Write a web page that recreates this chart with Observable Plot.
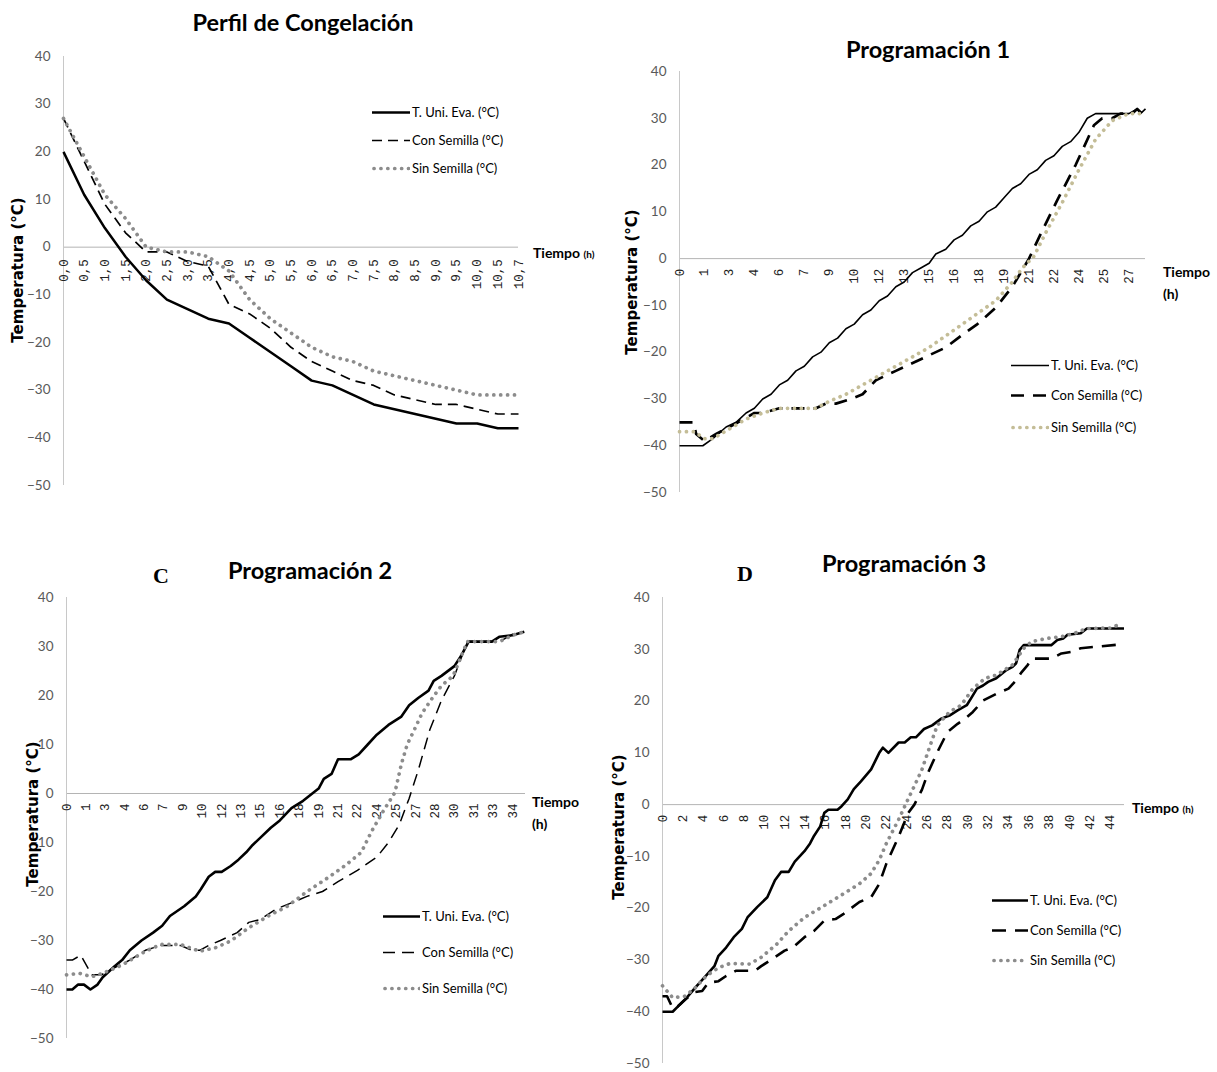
<!DOCTYPE html>
<html><head><meta charset="utf-8">
<script src="https://cdn.jsdelivr.net/npm/d3@7"></script>
<script src="https://cdn.jsdelivr.net/npm/@observablehq/plot@0.6"></script>
<style>
body{margin:0;background:#fff;}
#page{position:relative;width:1217px;height:1072px;overflow:hidden;background:#fff;}
.abs{position:absolute;white-space:nowrap;line-height:1;}
.title{font-family:"Liberation Sans Narrow",Lato,sans-serif;font-weight:bold;font-size:23.5px;color:#000;transform:translate(-50%,-50%);}
.ytitle{font-family:"DejaVu Sans",Verdana,sans-serif;font-weight:bold;font-size:15px;color:#000;transform:translate(-50%,-50%) rotate(-90deg);}
.leg{font-family:"Liberation Sans Narrow",Lato,sans-serif;font-size:13px;color:#000;display:flex;align-items:center;transform:translateY(-50%);}
.leg svg{display:block;margin-right:2px;}
.tiempo{font-family:"Liberation Sans Narrow",Lato,sans-serif;font-weight:bold;font-size:14px;color:#000;transform:translateY(-50%);}
.tiempo small{font-size:10px;}
.letter{font-family:"Liberation Serif","Times New Roman",serif;font-weight:bold;font-size:22px;transform:translate(-50%,-50%);}
</style>
</head><body><div id="page"></div>
<script>
// ---------- Panel A: Perfil de Congelación (categories every 0,5 h) ----------
const aLabels = ["0,0","0,5","1,0","1,5","2,0","2,5","3,0","3,5","4,0","4,5","5,0","5,5","6,0","6,5","7,0","7,5","8,0","8,5","9,0","9,5","10,0","10,5","10,7"];
const aUni = [20,11,4,-2,-7,-11,-13,-15,-16,-19,-22,-25,-28,-29,-31,-33,-34,-35,-36,-37,-37,-38,-38];
const aCon = [27,18,9,3,-1,-1,-3,-4,-12,-14,-17,-21,-24,-26,-28,-29,-31,-32,-33,-33,-34,-35,-35];
const aSin = [27,19,11,6,0,-1,-1,-2,-5,-11,-15,-18,-21,-23,-24,-26,-27,-28,-29,-30,-31,-31,-31];

// ---------- Panel B: Programación 1 ([hours, °C]) ----------
const bLabels = ["0","1","3","4","6","7","9","10","12","13","15","16","18","19","21","22","24","25","27"];
const bUni = [[0,-40],[1.4,-40],[2,-38.5],[2.8,-36],[3.4,-35],[4,-33],[4.5,-32],[5,-30],[5.5,-29],[6,-27],[6.5,-26],[7,-24],[7.5,-23],[8,-21],[8.5,-20],[9,-18],[9.5,-17],[10,-15],[10.5,-14],[11,-12],[11.5,-11],[12,-9],[12.5,-8],[13,-6],[13.5,-5],[14,-3],[14.5,-2],[15,-1],[15.4,1],[16,2],[16.5,4],[17,5],[17.5,7],[18,8],[18.5,10],[19,11],[19.5,13],[20,15],[20.5,16],[21,18],[21.5,19],[22,21],[22.5,22],[23,24],[23.5,25],[24,27],[24.5,30],[25,31],[27,31],[27.5,32],[27.7,31],[28,32]];
const bCon = [[0,-35],[0.85,-35],[1,-37.5],[1.5,-39],[2.2,-37.5],[3,-36],[4,-34],[4.5,-33],[5,-33],[6,-32],[8.2,-32],[8.8,-31],[9.4,-31],[10.3,-30],[11,-29],[11.8,-26],[13,-24],[14.5,-21.5],[16,-19],[17.1,-16],[17.9,-14],[19,-10.5],[20,-6],[21,0],[21.8,6],[22.7,12.5],[23.8,20],[24.9,28.5],[25.4,30],[26,30],[26.5,31],[27.2,31],[27.5,32],[27.8,31],[28,32]];
const bSin = [[0,-37],[0.9,-37],[1.5,-38.5],[2,-38.5],[3,-36.4],[4,-34.3],[5,-33],[6,-32],[8.2,-32],[9,-30.5],[10,-29],[11,-27],[12,-25],[13,-23],[14,-21],[15,-19],[16,-16.5],[17,-14],[18,-11.5],[19,-9],[20,-5],[20.6,-2],[21.3,0.5],[22,5.5],[23,12],[24,19],[25,25.5],[26,29.5],[27,31],[28,31]];

// ---------- Panel C: Programación 2 ----------
const cLabels = ["0","1","3","4","6","7","9","10","12","13","15","16","18","19","21","22","24","25","27","28","30","31","33","34"];
const cUni = [[0,-40],[0.45,-40],[0.9,-39],[1.35,-39],[1.85,-40],[2.4,-39],[2.8,-37.5],[3.7,-35.3],[4.3,-34],[4.9,-32],[5.8,-30],[6.7,-28.4],[7.4,-27],[8,-25],[9.1,-23],[10,-21],[10.4,-19.5],[11,-17],[11.5,-16],[12,-16],[12.7,-14.8],[13.3,-13.5],[13.9,-12],[14.4,-10.5],[15,-9],[15.8,-7],[16.5,-5.5],[17.4,-3],[18.3,-1.5],[19.5,1],[19.9,3],[20.5,4],[21,7],[22,7],[22.6,8],[23.3,10],[24,12],[24.9,14],[25.9,15.7],[26.5,18],[27.2,19.5],[28,21],[28.4,23],[29,24],[30,26],[30.5,28],[31.1,31],[32.9,31],[33.5,32],[34.5,32.3],[35.4,33]];
const cCon = [[0,-34],[0.45,-34],[1.1,-33],[1.95,-37],[2.7,-37],[3.7,-35.6],[4.9,-34],[6.1,-32],[7.3,-31],[8.8,-31],[9.7,-32],[10.3,-32],[11,-31],[11.9,-30],[13.2,-28.4],[14.1,-26.3],[15,-25.7],[16.2,-23.6],[17.7,-22],[18.6,-21],[19.8,-20],[21,-18],[22.5,-15.7],[24,-13],[24.9,-10],[25.75,-6.3],[26.5,-1],[27.2,4.7],[28.1,13],[29,19],[30,24],[31,31],[33.5,31],[34.5,32.5],[35.4,33]];
const cSin = [[0,-37],[1,-36.7],[1.95,-37.4],[2.8,-36.7],[4.3,-35],[6.1,-32.2],[7.3,-30.8],[8.8,-30.8],[10.3,-32.2],[11.5,-31.5],[12.7,-30.1],[14.1,-27.4],[15.6,-25],[17.1,-23],[18.6,-20],[20.1,-17.4],[21.6,-14.6],[22.8,-12],[23.6,-7.7],[24.5,-3.6],[25.4,0.2],[25.9,6],[26.35,10],[26.9,13],[27.5,16.4],[28.3,19.5],[29,22],[29.9,24],[31,31],[33.5,31],[34.5,32.3],[35.4,33]];

// ---------- Panel D: Programación 3 ----------
const dLabels = ["0","2","4","6","8","10","12","14","16","18","20","22","24","26","28","30","32","34","36","38","40","42","44"];
const dUni = [[0,-40],[1,-40],[1.5,-39],[2.2,-37.7],[3.2,-35.4],[4.3,-33],[5.1,-31.2],[5.5,-29.2],[6.25,-27.6],[7,-25.6],[7.8,-24],[8.35,-21.8],[9.3,-19.8],[10.3,-17.9],[11.05,-14.6],[11.65,-13],[12.4,-13],[13,-11],[13.95,-9],[14.5,-7.5],[14.9,-6],[15.5,-4.2],[15.9,-1.6],[16.3,-1],[17.2,-1],[17.6,-0.3],[18.2,1],[18.8,3],[19.5,4.5],[20.5,6.8],[20.9,8.4],[21.3,10],[21.65,11],[22.2,10],[23.2,12],[23.8,12],[24.4,13],[24.9,13],[25.7,14.6],[26.5,15.3],[27.4,16.6],[28.2,17.2],[29,18.2],[29.9,19.2],[30.5,21.1],[30.9,22.4],[31.5,23],[32,23.7],[32.8,24.4],[33.8,26],[34.4,26.6],[34.75,27.3],[35.1,29.9],[35.5,30.8],[38.2,30.8],[38.8,31.8],[39.4,32.1],[39.8,32.8],[41.1,33.1],[41.7,34],[45.35,34]];
const dCon = [[0,-37],[0.45,-37],[1,-39.3],[1.5,-39],[2.2,-37.7],[3.2,-36.2],[3.9,-36],[4.5,-34.4],[5.5,-34.1],[6.25,-33.1],[7.2,-32.1],[9.1,-32.1],[9.7,-31.2],[10.5,-30.2],[12,-28.2],[12.8,-27.6],[13.95,-25.6],[14.9,-24.4],[15.9,-22.4],[17,-22.1],[17.8,-21.1],[19.35,-18.8],[20.5,-17.9],[21.3,-15.3],[22,-11.4],[23.2,-6.2],[24.15,-1.6],[24.75,0],[25.5,2.9],[26.1,6.2],[27,10.1],[28,14],[29,15.6],[29.75,16.6],[30.5,17.9],[31.5,20.1],[32.8,21.4],[34,22.4],[34.75,24],[35.3,25.6],[35.9,27],[36.3,28.2],[38.2,28.2],[39.2,29.2],[40.15,29.5],[41.1,30.2],[45.35,31]];
const dSin = [[0,-35],[1,-37.3],[2.2,-37],[3.2,-35.4],[4.3,-33.1],[5.5,-31.5],[6.6,-30.7],[8.55,-30.8],[9.7,-29.5],[11.25,-26.9],[12.4,-24.4],[13.95,-21.8],[15.9,-19.5],[17.8,-17.2],[19.35,-15.3],[20.5,-13.3],[21.3,-10.7],[22,-7.5],[23.2,-2.9],[23.95,0.3],[24.75,3.6],[25.5,6.8],[26.3,11.4],[27,15.3],[28.2,17.9],[29.35,19.2],[30.5,22.4],[31.7,24.4],[32.8,25],[34.4,27],[35.5,30.2],[36.3,31.5],[37.8,32.1],[39.4,32.5],[40.5,33.1],[41.7,34],[44,34.1],[45.2,35]];

const seriesNames = ["T. Uni. Eva. (°C)", "Con Semilla (°C)", "Sin Semilla (°C)"];
const yTicks = [-50,-40,-30,-20,-10,0,10,20,30,40];

const page = document.getElementById("page");
const sans = '"Liberation Sans Narrow", Lato, sans-serif';

function addDiv(cls, html, left, top) {
  const d = document.createElement("div");
  d.className = "abs " + cls;
  d.innerHTML = html;
  d.style.left = left + "px";
  d.style.top = top + "px";
  page.appendChild(d);
  return d;
}

function panel(p) {
  const fig = Plot.plot({
    width: p.width, height: p.height,
    marginLeft: p.mL, marginRight: p.mR, marginTop: p.mT, marginBottom: p.mB,
    x: {domain: p.xDomain, axis: null},
    y: {domain: [-50, 40], axis: null},
    style: {fontFamily: sans, fontSize: "13.5px", color: "#595959", background: "transparent", overflow: "visible", maxWidth: "none"},
    marks: [
      Plot.ruleY([0], {stroke: "#b4b4b4", strokeWidth: 1}),
      Plot.ruleX([0], {stroke: "#c8c8c8", strokeWidth: 1}),
      Plot.axisY({ticks: yTicks, tickSize: 0, tickPadding: 13, label: null}),
      Plot.text(p.labels, {x: (d, i) => i * p.step, y: 0, text: d => d, rotate: -90, textAnchor: "end", dy: p.labelGap, fontFamily: '"Liberation Mono", "DejaVu Sans Mono", monospace', fontSize: 12.5, fill: "#222"}),
      ...p.series.map((s, k) => Plot.line(s, {x: d => d[0], y: d => d[1], stroke: p.styles[k].color, strokeWidth: p.styles[k].w, strokeDasharray: p.styles[k].dash, strokeLinecap: p.styles[k].cap || "butt", strokeLinejoin: "round"}))
    ]
  });
  fig.style.position = "absolute";
  fig.style.left = p.left + "px";
  fig.style.top = p.top + "px";
  page.appendChild(fig);

  addDiv("title", p.title, p.titleX, p.titleY);
  addDiv("ytitle", "Temperatura (°C)", p.yTitleX, p.yTitleY);
  addDiv("tiempo", p.tiempoHtml, p.tiempoX, p.tiempoY);
  if (p.letter) addDiv("letter", p.letter[0], p.letter[1], p.letter[2]);
  p.styles.forEach((st, k) => {
    const L = p.legend.len;
    const svg = `<svg width="${L}" height="12"><line x1="${st.cap ? 2 : 0}" x2="${L}" y1="6" y2="6" stroke="${st.color}" stroke-width="${st.w}" ${st.dash ? `stroke-dasharray="${st.dash}"` : ""} stroke-linecap="${st.cap || "butt"}"/></svg>`;
    addDiv("leg", svg + "<span>" + seriesNames[k] + "</span>", p.legend.x, p.legend.ys[k]);
  });
}

const solid = w => ({color: "#000", w, dash: null});
const dashed = (w, dash) => ({color: "#000", w, dash});
const dotted = (color) => ({color, w: 3.7, dash: "0.1,6.8", cap: "round"});

panel({
  left: 0, top: 0, width: 620, height: 500, mL: 63, mR: 102, mT: 56, mB: 15,
  xDomain: [0, 22], labels: aLabels, step: 1, labelGap: 12,
  series: [aUni.map((v, i) => [i, v]), aCon.map((v, i) => [i, v]), aSin.map((v, i) => [i, v])],
  styles: [solid(2.5), dashed(1.7, "10,6"), dotted("#8c8c8c")],
  title: "Perfil de Congelación", titleX: 303, titleY: 23,
  yTitleX: 18, yTitleY: 270,
  tiempoHtml: "Tiempo <small>(h)</small>", tiempoX: 533, tiempoY: 253,
  legend: {x: 372, len: 38, ys: [112, 140, 168]}
});

panel({
  left: 600, top: 0, width: 617, height: 500, mL: 79, mR: 72, mT: 71, mB: 8,
  xDomain: [0, 28], labels: bLabels, step: 1.5, labelGap: 10,
  series: [bUni, bCon, bSin],
  styles: [solid(1.6), dashed(2.7, "13,9"), dotted("#c4bd97")],
  title: "Programación 1", titleX: 928, titleY: 50,
  yTitleX: 632, yTitleY: 282,
  tiempoHtml: "Tiempo<br><span style='display:inline-block;margin-top:8px'>(h)</span>", tiempoX: 1163, tiempoY: 283,
  legend: {x: 1011, len: 38, ys: [365, 395, 427]}
});

panel({
  left: 0, top: 540, width: 600, height: 510, mL: 66, mR: 75, mT: 57, mB: 12,
  xDomain: [0, 35.5], labels: cLabels, step: 1.5, labelGap: 10,
  series: [cUni, cCon, cSin],
  styles: [solid(2.6), dashed(1.5, "12,7"), dotted("#8c8c8c")],
  title: "Programación 2", titleX: 310, titleY: 571,
  yTitleX: 33, yTitleY: 814,
  tiempoHtml: "Tiempo<br><span style='display:inline-block;margin-top:8px'>(h)</span>", tiempoX: 532, tiempoY: 813,
  letter: ["C", 161, 576],
  legend: {x: 383, len: 37, ys: [916, 952, 988]}
});

panel({
  left: 600, top: 540, width: 617, height: 532, mL: 62, mR: 93, mT: 57, mB: 9,
  xDomain: [0, 45.4], labels: dLabels, step: 2, labelGap: 10,
  series: [dUni, dCon, dSin],
  styles: [solid(2.6), dashed(2.6, "14,9"), dotted("#8c8c8c")],
  title: "Programación 3", titleX: 904, titleY: 564,
  yTitleX: 619, yTitleY: 827,
  tiempoHtml: "Tiempo <small>(h)</small>", tiempoX: 1132, tiempoY: 808,
  letter: ["D", 745, 574],
  legend: {x: 992, len: 36, ys: [900, 930, 960]}
});
</script>
</body></html>
